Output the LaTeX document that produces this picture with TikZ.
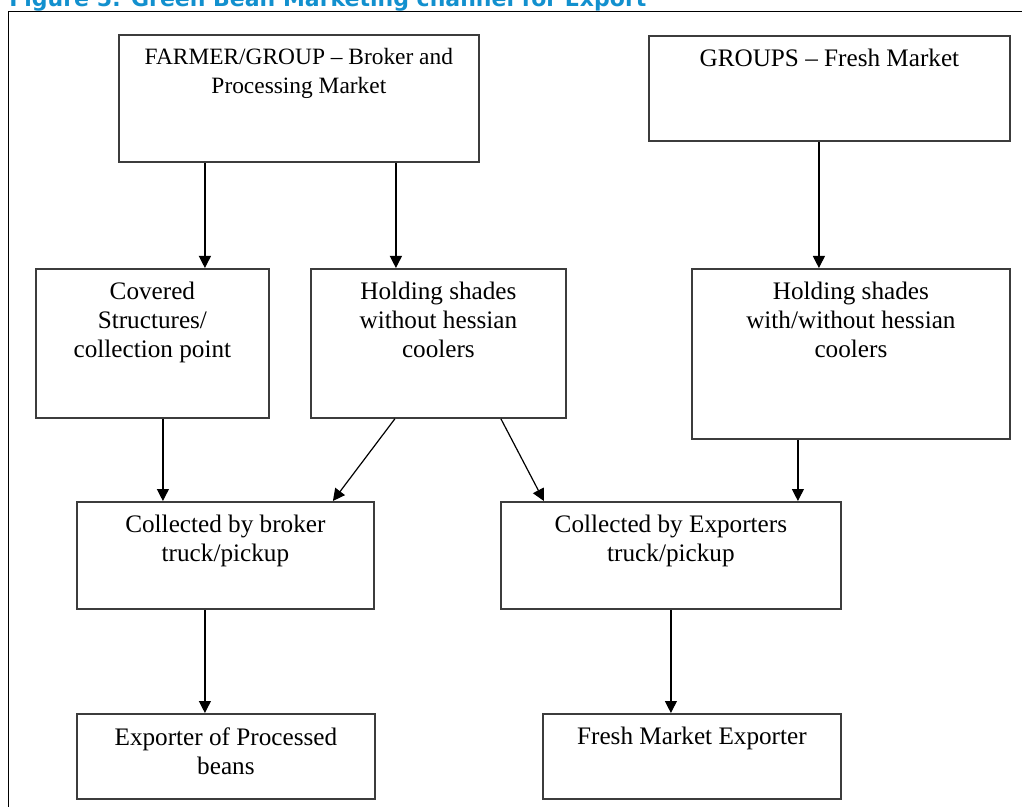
\documentclass[tikz,border=0pt]{standalone}
\usepackage{fontspec}
\setmainfont{Liberation Serif}
\newfontfamily\titlefont{DejaVu Sans}
\usetikzlibrary{arrows.meta,positioning}
\definecolor{titleblue}{RGB}{18,144,206}
\definecolor{boxline}{RGB}{60,60,60}

\begin{document}
\begin{tikzpicture}[
    x=0.5pt, y=-0.5pt,
    box/.style={rectangle, draw=boxline, line width=0.9pt, anchor=north west, inner sep=0pt},
    txt/.style={anchor=north, align=center, inner sep=0pt, yshift=-7pt, font=\fontsize{12.6}{14.5}\selectfont},
    smalltxt/.style={txt, font=\fontsize{11.7}{14.5}\selectfont},
    arrow/.style={line width=0.6pt, -{Triangle[length=6pt,width=6pt]}}
]
\useasboundingbox (0,0) rectangle (1022,807);
% Title and frame
\node[anchor=base west, inner sep=0pt, text=titleblue, font=\titlefont\bfseries\fontsize{11}{13}\selectfont] (title) at (9,6.5) {Figure 5: Green Bean Marketing channel for Export};
\draw[line width=0.5pt] (8,830) -- (8,11.5) -- (1040,11.5);
% Producers
\node[box, minimum width=180pt, minimum height=63.5pt, label={[smalltxt]north:{FARMER/GROUP -- Broker and\\Processing Market}}] (farmer) at (118,34) {};
\node[box, minimum width=180.5pt, minimum height=52.5pt, label={[txt]north:{GROUPS -- Fresh Market}}] (groups) at (648,35) {};
% Holding points
\node[box, minimum width=116.5pt, minimum height=74.5pt, label={[txt]north:{Covered\\Structures/\\collection point}}] (covered) at (35,268) {};
\node[box, minimum width=127.5pt, minimum height=74.5pt, label={[txt]north:{Holding shades\\without hessian\\coolers}}] (holdA) at (310,268) {};
\node[box, minimum width=159pt, minimum height=85pt, label={[txt]north:{Holding shades\\with/without hessian\\coolers}}] (holdB) at (691,268) {};
% Collection
\node[box, minimum width=148.5pt, minimum height=53.5pt, label={[txt]north:{Collected by broker\\truck/pickup}}] (broker) at (76,501) {};
\node[box, minimum width=170pt, minimum height=53.5pt, label={[txt]north:{Collected by Exporters\\truck/pickup}}] (exporters) at (500,501) {};
% Exporters
\node[box, minimum width=149pt, minimum height=42.5pt, label={[txt]north:{Exporter of Processed\\beans}}] (processed) at (76,713) {};
\node[box, minimum width=149pt, minimum height=42.5pt, label={[txt]north:{Fresh Market Exporter}}] (fresh) at (542,713) {};
% Arrows
\draw[arrow] ([xshift=-47pt]farmer.south) -- ([xshift=26.25pt]covered.north);
\draw[arrow] ([xshift=48.5pt]farmer.south) -- ([xshift=-21.25pt]holdA.north);
\draw[arrow] ([xshift=-5.25pt]groups.south) -- ([xshift=-16pt]holdB.north);
\draw[arrow] ([xshift=5.25pt]covered.south) -- ([xshift=-31.25pt]broker.north);
\draw[arrow] ([xshift=-21.75pt]holdA.south) -- ([xshift=53.75pt]broker.north);
\draw[arrow] ([xshift=31.25pt]holdA.south) -- ([xshift=-63.5pt]exporters.north);
\draw[arrow] ([xshift=-26.5pt]holdB.south) -- ([xshift=63.5pt]exporters.north);
\draw[arrow] ([xshift=-10.25pt]broker.south) -- ([xshift=-10.5pt]processed.north);
\draw[arrow] (exporters.south) -- ([xshift=-10.5pt]fresh.north);
\end{tikzpicture}
\end{document}
